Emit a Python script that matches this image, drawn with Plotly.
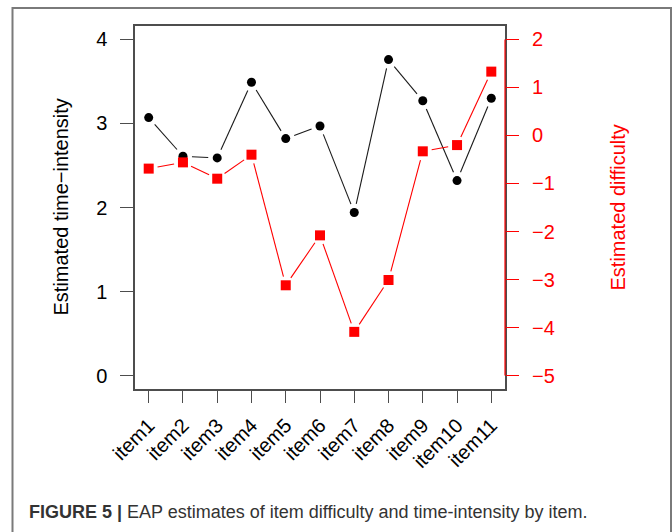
import math
import plotly.graph_objects as go

# Item labels and EAP estimates
items = ["item1", "item2", "item3", "item4", "item5", "item6",
         "item7", "item8", "item9", "item10", "item11"]
time_intensity = [3.07, 2.61, 2.59, 3.49, 2.82, 2.97, 1.94, 3.76, 3.27, 2.32, 3.30]
difficulty = [-0.69, -0.56, -0.90, -0.40, -3.12, -2.08, -4.09, -3.01, -0.33, -0.20, 1.33]

left_ticks = [0, 1, 2, 3, 4]
right_ticks = [-5, -4, -3, -2, -1, 0, 1, 2]

W, H = 672, 532
ML, MR, MT, MB = 135, 167, 26, 143
PW, PH = W - ML - MR, H - MT - MB

xpos = list(range(1, len(items) + 1))
XR = [0.6, 11.4]
Y1R = [-0.16, 4.16]
Y2R = [-5.28, 2.28]

FONT = "Liberation Sans, Arial, sans-serif"


def gapped(xs, ys, yr, gap=9.0):
    """Line segments between consecutive points, cut back near each point (R type='b')."""
    def to_px(x, y):
        return ((x - XR[0]) / (XR[1] - XR[0]) * PW,
                (y - yr[0]) / (yr[1] - yr[0]) * PH)

    def to_data(px, py):
        return (XR[0] + px / PW * (XR[1] - XR[0]),
                yr[0] + py / PH * (yr[1] - yr[0]))

    sx, sy = [], []
    for i in range(len(xs) - 1):
        ax, ay = to_px(xs[i], ys[i])
        bx, by = to_px(xs[i + 1], ys[i + 1])
        d = math.hypot(bx - ax, by - ay)
        if d <= 2 * gap:
            continue
        ux, uy = (bx - ax) / d, (by - ay) / d
        p0 = to_data(ax + ux * gap, ay + uy * gap)
        p1 = to_data(bx - ux * gap, by - uy * gap)
        sx += [p0[0], p1[0], None]
        sy += [p0[1], p1[1], None]
    return sx, sy


fig = go.Figure()

bx, by = gapped(xpos, time_intensity, Y1R)
fig.add_trace(go.Scatter(x=bx, y=by, mode="lines",
                         line=dict(color="#1a1a1a", width=1.1),
                         hoverinfo="skip", showlegend=False))
fig.add_trace(go.Scatter(x=xpos, y=time_intensity, mode="markers",
                         marker=dict(symbol="circle", size=9, color="black"),
                         showlegend=False))

rx, ry = gapped(xpos, difficulty, Y2R)
fig.add_trace(go.Scatter(x=rx, y=ry, mode="lines", yaxis="y2",
                         line=dict(color="#ff0000", width=1.1),
                         hoverinfo="skip", showlegend=False))
fig.add_trace(go.Scatter(x=xpos, y=difficulty, mode="markers", yaxis="y2",
                         marker=dict(symbol="square", size=10, color="#ff0000"),
                         showlegend=False))

axis_col = "#4d4d4d"

fig.update_layout(
    width=W, height=H,
    margin=dict(l=ML, r=MR, t=MT, b=MB, pad=0),
    paper_bgcolor="white", plot_bgcolor="white",
    font=dict(family=FONT, size=20, color="black"),
    xaxis=dict(range=XR, tickmode="array", tickvals=xpos, ticktext=items,
               tickangle=-45, ticks="outside", ticklen=12, tickwidth=1.2,
               tickcolor=axis_col, showgrid=False, zeroline=False,
               showline=True, mirror=True, linecolor=axis_col, linewidth=1.5,
               tickfont=dict(size=20, color="black"), ticklabelstandoff=3),
    yaxis=dict(range=Y1R, tickmode="array", tickvals=left_ticks,
               ticks="outside", ticklen=13, tickwidth=1.2, tickcolor=axis_col,
               showgrid=False, zeroline=False, showline=True, mirror=True,
               linecolor=axis_col, linewidth=1.5,
               tickfont=dict(size=20, color="black"), ticklabelstandoff=9),
    yaxis2=dict(range=Y2R, overlaying="y", side="right", tickmode="array",
                tickvals=right_ticks, ticktext=[str(v).replace("-", "\u2212") for v in right_ticks],
                ticks="outside", ticklen=13, tickwidth=1.2, tickcolor="#ff0000",
                showgrid=False, zeroline=False, showline=False,
                tickfont=dict(size=20, color="#ff0000"), ticklabelstandoff=9),
    shapes=[
        # red right-hand axis line spanning its tick range
        dict(type="line", xref="paper", yref="y2", x0=1, x1=1,
             y0=right_ticks[0], y1=right_ticks[-1],
             line=dict(color="#ff0000", width=1.2)),
        # outer frame around the figure panel
        dict(type="rect", xref="paper", yref="paper",
             x0=(12.5 - ML) / PW, x1=(671 - ML) / PW,
             y0=(PH + MT - 560) / PH, y1=(PH + MT - 8) / PH,
             line=dict(color="#7a7a7a", width=2), fillcolor="rgba(0,0,0,0)",
             layer="below"),
    ],
    annotations=[
        dict(text="Estimated time\u2212intensity", xref="paper", yref="paper",
             x=(60 - ML) / PW, y=0.5, textangle=-90, showarrow=False,
             xanchor="center", yanchor="middle",
             font=dict(family=FONT, size=20, color="black")),
        dict(text="Estimated difficulty", xref="paper", yref="paper",
             x=(617 - ML) / PW, y=0.5, textangle=-90, showarrow=False,
             xanchor="center", yanchor="middle",
             font=dict(family=FONT, size=20, color="#ff0000")),
        dict(text="<b>FIGURE 5 |</b> EAP estimates of item difficulty and time-intensity by item.",
             xref="paper", yref="paper", x=(27 - ML) / PW, y=(PH + MT - 512) / PH,
             showarrow=False, xanchor="left", yanchor="middle",
             font=dict(family=FONT, size=18, color="#333333")),
    ],
)

fig.write_html("out.html")
